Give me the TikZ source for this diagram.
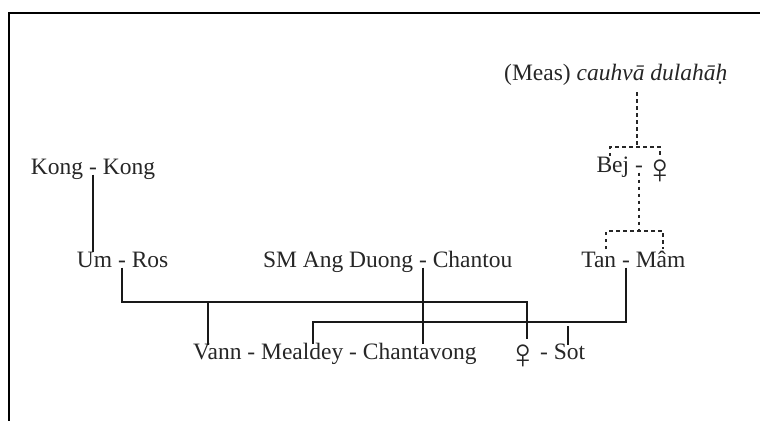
\documentclass[tikz,border=0pt]{standalone}
\usepackage{fontspec}
\setmainfont{Liberation Serif}
\begin{document}
\begin{tikzpicture}[x=1pt,y=-1pt,
  nm/.style={inner sep=0pt, font=\fontsize{23.5}{28}\selectfont, text=black!85},
  fem/.style={inner sep=0pt, font=\fontsize{42}{42}\selectfont, text=black!85},
  solidln/.style={line width=1.8pt, black!90},
  dsh/.style={line width=1.6pt, black!85, dash pattern=on 3.5pt off 3.5pt},
  frameln/.style={line width=2.2pt, black}]
\useasboundingbox (0,0) rectangle (760,421);
% frame (only top and left sides visible)
\draw[frameln] (760,13) -- (9,13) -- (9,421);

% ---- top: Meas ----
\node[nm, anchor=mid west] (meas) at (504,78) {(Meas) \textit{cauhvā dulahāḥ}};
\coordinate (mtop) at (637,92);
\coordinate (mj) at (637,147);
\coordinate (bl) at (610,156);
\coordinate (br) at (660,155);

% ---- Bej - female ----
\node[nm, anchor=mid] (bd) at (639,170) {-};
\node[nm, anchor=mid east] (bej) at ([xshift=-5.5pt]bd.mid west) {Bej};
\node[fem, anchor=center] (bf) at (660,172) {♀};
\coordinate (bj) at (639,231);
\coordinate (tl) at (606,249);
\coordinate (tr) at (663,249);

% ---- Kong - Kong ----
\node[nm, anchor=mid] (kd) at (93,172) {-};
\node[nm, anchor=mid east] (k1) at ([xshift=-5.5pt]kd.mid west) {Kong};
\node[nm, anchor=mid west] (k2) at ([xshift=5.5pt]kd.mid east) {Kong};

% ---- Um - Ros ----
\node[nm, anchor=mid] (ud) at (122,265) {-};
\node[nm, anchor=mid east] (um) at ([xshift=-5.5pt]ud.mid west) {Um};
\node[nm, anchor=mid west] (ros) at ([xshift=5.5pt]ud.mid east) {Ros};

% ---- SM Ang Duong - Chantou ----
\node[nm, anchor=mid] (sd) at (423,265) {-};
\node[nm, anchor=mid east] (ang) at ([xshift=-5.5pt]sd.mid west) {SM Ang Duong};
\node[nm, anchor=mid west] (chu) at ([xshift=5.5pt]sd.mid east) {Chantou};

% ---- Tan - Mam ----
\node[nm, anchor=mid] (td) at (626,265) {-};
\node[nm, anchor=mid east] (tan) at ([xshift=-5.5pt]td.mid west) {Tan};
\node[nm, anchor=mid west] (mam) at ([xshift=5.5pt]td.mid east) {Mâm};

% ---- bottom row ----
\node[nm, anchor=mid west] (vann) at (193,357) {Vann};
\node[nm, anchor=mid west] (vd1) at ([xshift=5.5pt]vann.mid east) {-};
\node[nm, anchor=mid west] (meal) at ([xshift=5.5pt]vd1.mid east) {Mealdey};
\node[nm, anchor=mid west] (vd2) at ([xshift=5.5pt]meal.mid east) {-};
\node[nm, anchor=mid west] (chv) at ([xshift=5.5pt]vd2.mid east) {Chantavong};

\node[fem, anchor=center] (ff) at (523,357) {♀};
\node[nm, anchor=mid] (fd) at (544,357) {-};
\node[nm, anchor=mid west] (sot) at ([xshift=5.5pt]fd.mid east) {Sot};

% ---- junction coordinates ----
\coordinate (ja) at (122,302);   % Um-Ros line
\coordinate (jv) at (208,302);   % drop to Vann
\coordinate (jf) at (527,302);   % drop to female
\coordinate (jfe) at (527,339);
\coordinate (jt) at (626,322);   % Tan-Mam line
\coordinate (jm) at (313,322);   % drop to Mealdey
\coordinate (js) at (568,326);   % drop to Sot

% ---- solid connectors ----
\draw[solidln] (kd.south) -- (kd.south |- um.north);
\draw[solidln] (ud.south) -- (ja) -- (jf) -- (jfe);
\draw[solidln] (jv) -- ([yshift=-1pt]jv |- vann.north);
\draw[solidln] (sd.south) -- ([yshift=-1pt]sd.south |- chv.north);
\draw[solidln] (td.south) -- (jt) -- (jm) -- ([yshift=-1pt]jm |- meal.north);
\draw[solidln] (js) -- ([yshift=-1pt]js |- sot.north);

% ---- dashed connectors ----
\draw[dsh] (mtop) -- (mj);
\draw[dsh] (bl) |- (mj) -| (br);
\draw[dsh] (bd.south) -- (bj);
\draw[dsh] (tl) |- (bj) -| (tr);
\end{tikzpicture}
\end{document}
